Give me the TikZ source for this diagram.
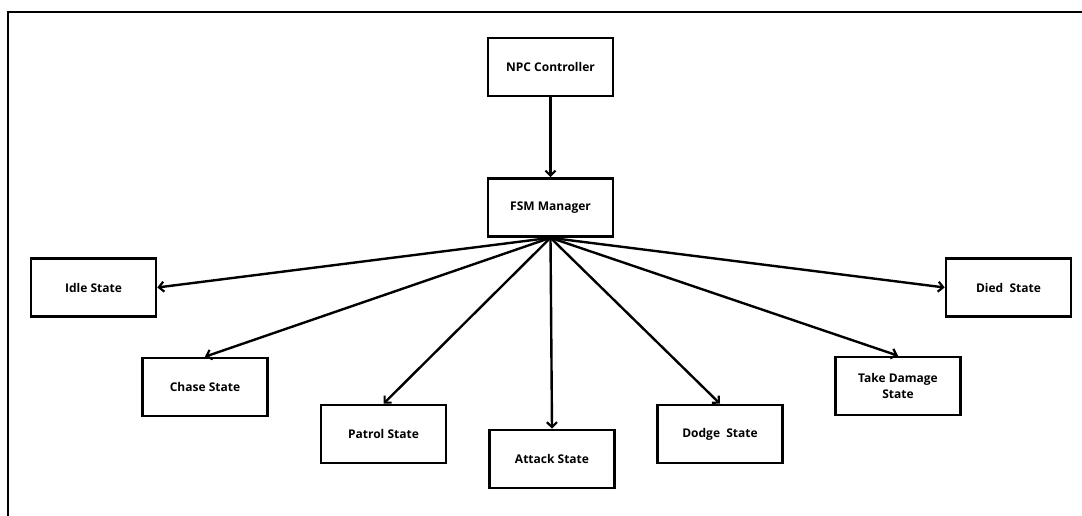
\documentclass[tikz,border=0pt]{standalone}
\usepackage{fontspec}
\setmainfont{Open Sans}
\usetikzlibrary{arrows.meta}
\begin{document}
\begin{tikzpicture}[x=1pt,y=-1pt,
  box/.style={draw=black,line width=2.6pt,minimum width=125pt,minimum height=58pt,
    inner sep=0pt,align=center,font=\fontsize{12}{15.5}\selectfont\bfseries},
  link/.style={line width=2.4pt,-{Straight Barb[length=5pt,width=10pt,line width=2.2pt]}}]
\useasboundingbox (0,0) rectangle (1082,516);
% outer frame (top and left edges)
\draw[line width=2pt] (1082,12) -- (7.5,12) -- (7.5,516);
% nodes
\node[box] (npc)    at (550.5,67)   {NPC Controller};
\node[box] (fsm)    at (550.5,207.5){FSM Manager};
\node[box] (idle)   at (93.5,287.5) {Idle State};
\node[box] (died)   at (1008.5,287.5){Died~ State};
\node[box] (chase)  at (205,387)    {Chase State};
\node[box] (patrol) at (383.5,434)  {Patrol State};
\node[box] (attack) at (552,459)    {Attack State};
\node[box] (dodge)  at (720,434)    {Dodge~ State};
\node[box] (dmg)    at (898,386)    {Take Damage\\State};
% connectors
\draw[link] (npc.south) -- (fsm.north);
\draw[link] (fsm.south) -- (idle.east);
\draw[link] (fsm.south) -- (chase.north);
\draw[link] (fsm.south) -- (patrol.north);
\draw[link] (fsm.south) -- (attack.north);
\draw[link] (fsm.south) -- (dodge.north);
\draw[link] (fsm.south) -- (dmg.north);
\draw[link] (fsm.south) -- (died.west);
\end{tikzpicture}
\end{document}
